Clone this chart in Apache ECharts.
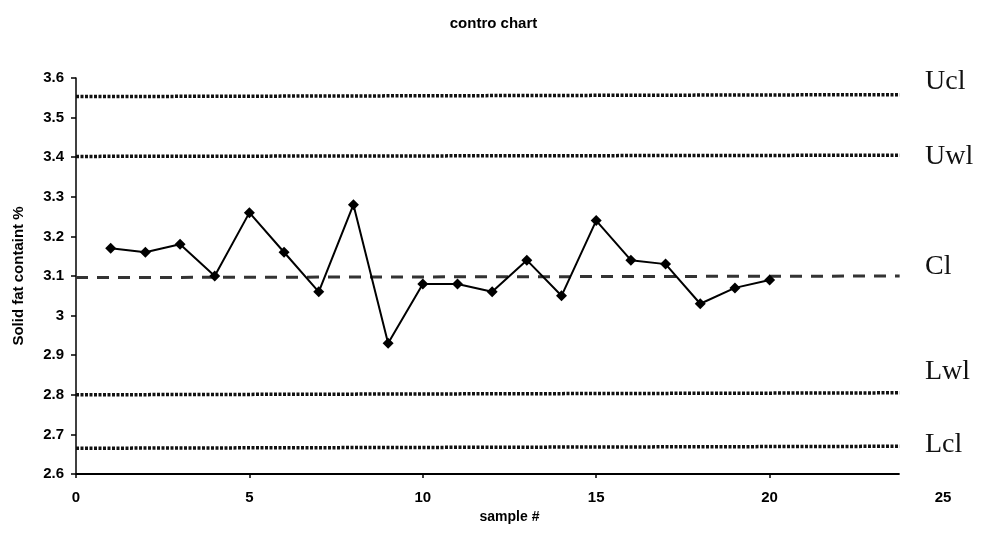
<!DOCTYPE html>
<html>
<head>
<meta charset="utf-8">
<title>contro chart</title>
<script src="https://cdn.jsdelivr.net/npm/echarts@6/dist/echarts.min.js"></script>
<style>
  html, body { margin: 0; padding: 0; background: #fff; }
  #chart { width: 987px; height: 533px; }
</style>
</head>
<body>
<div id="chart"></div>
<script>
// Sample numbers and measured solid fat content (%)
const samples = [1, 2, 3, 4, 5, 6, 7, 8, 9, 10, 11, 12, 13, 14, 15, 16, 17, 18, 19, 20];
const solidFat = [3.17, 3.16, 3.18, 3.10, 3.26, 3.16, 3.06, 3.28, 2.93, 3.08,
                  3.08, 3.06, 3.14, 3.05, 3.24, 3.14, 3.13, 3.03, 3.07, 3.09];

// Control / warning limits (value at start and end of each limit line)
const limitNames = ['Ucl', 'Uwl', 'Cl', 'Lwl', 'Lcl'];
const limitStart = [3.553, 3.402, 3.096, 2.800, 2.665];
const limitEnd   = [3.558, 3.405, 3.100, 2.805, 2.670];
const limitSpan  = [0, 23.75];

// Axis ticks
const xTicks = [0, 5, 10, 15, 20];
const yMin = 2.6, yMax = 3.6, yStep = 0.1;
const xMin = 0, xMax = 25, xStep = 5;

const chart = echarts.init(document.getElementById('chart'), null, { renderer: 'canvas' });

const dotted = { color: '#111', width: 3.5, type: [3, 1.5] };
const dashed = { color: '#333', width: 3, type: [12, 9] };

const limitSeries = limitNames.map((name, i) => ({
  name: name,
  type: 'line',
  data: [[limitSpan[0], limitStart[i]], [limitSpan[1], limitEnd[i]]],
  symbol: 'none',
  silent: true,
  lineStyle: name === 'Cl' ? dashed : dotted,
  z: 2
}));

// Baseline of the sample axis, ending with the limit lines
const baseline = {
  type: 'line',
  data: [[limitSpan[0], yMin], [limitSpan[1], yMin]],
  symbol: 'none',
  silent: true,
  lineStyle: { color: '#000', width: 2 },
  z: 4
};

// Vertical centre (px) of each limit's caption at the right side
const labelPos = { Ucl: 82, Uwl: 157, Cl: 267, Lwl: 372, Lcl: 445 };

const sans = 'Liberation Sans';

const option = {
  backgroundColor: '#fff',
  animation: false,
  title: {
    text: 'contro chart',
    left: 'center',
    top: 11,
    textStyle: { fontFamily: sans, fontSize: 15, fontWeight: 'bold', color: '#000' }
  },
  grid: { left: 76, right: 44, top: 78, bottom: 59 },
  xAxis: {
    type: 'value',
    min: xMin, max: xMax, interval: xStep,
    name: 'sample #',
    nameLocation: 'middle',
    nameGap: 35,
    nameTextStyle: { fontFamily: sans, fontSize: 14, fontWeight: 'bold', color: '#000' },
    axisLine: { show: false },
    axisTick: { show: true, customValues: xTicks, length: 4, lineStyle: { color: '#000', width: 1.5 } },
    axisLabel: { margin: 16, fontFamily: sans, fontSize: 15, fontWeight: 'bold', color: '#000' },
    splitLine: { show: false }
  },
  yAxis: {
    type: 'value',
    min: yMin, max: yMax, interval: yStep,
    name: 'Solid fat containt %',
    nameLocation: 'middle',
    nameGap: 50,
    nameRotate: 90,
    nameTextStyle: { fontFamily: sans, fontSize: 15, fontWeight: 'bold', color: '#000' },
    axisLine: { show: true, lineStyle: { color: '#000', width: 1.5 } },
    axisTick: { show: true, inside: false, length: 5, lineStyle: { color: '#000', width: 1.5 } },
    axisLabel: {
      margin: 12,
      fontFamily: sans, fontSize: 15, fontWeight: 'bold', color: '#000',
      formatter: v => String(Math.round(v * 10) / 10)
    },
    splitLine: { show: false }
  },
  graphic: limitNames.map(name => ({
    type: 'text',
    x: 925,
    y: labelPos[name],
    style: {
      text: name,
      font: '28px "Liberation Serif"',
      fill: '#111',
      verticalAlign: 'middle'
    }
  })),
  series: [
    ...limitSeries,
    baseline,
    {
      name: 'Solid fat content',
      type: 'line',
      data: samples.map((s, i) => [s, solidFat[i]]),
      symbol: 'diamond',
      symbolSize: 11,
      itemStyle: { color: '#000' },
      lineStyle: { color: '#000', width: 2 },
      z: 5
    }
  ]
};

chart.setOption(option);
</script>
</body>
</html>
